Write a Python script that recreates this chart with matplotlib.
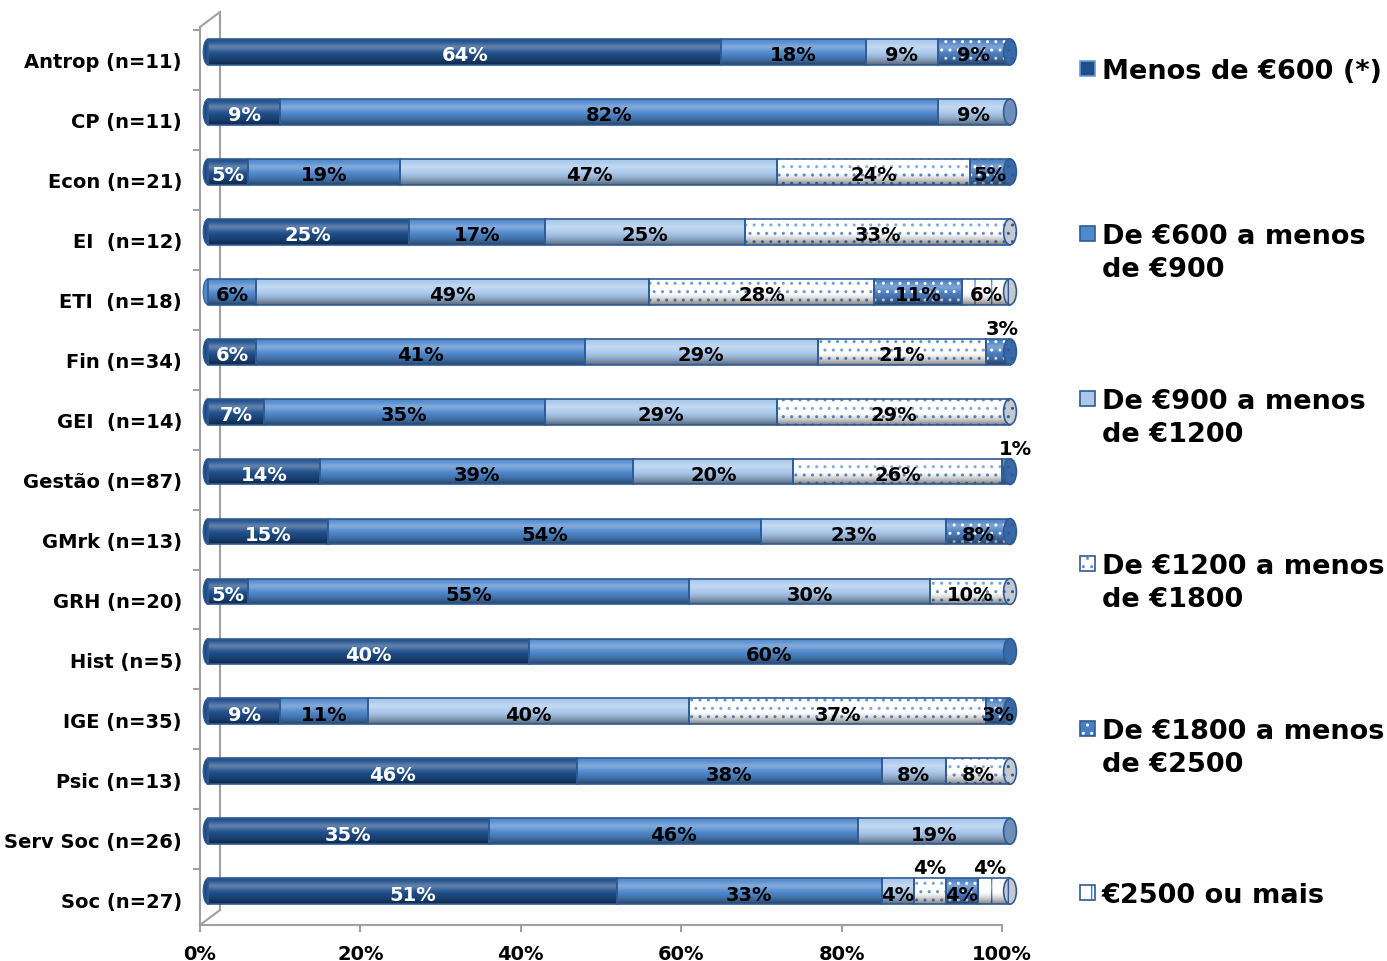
import numpy as np
import matplotlib
matplotlib.use("Agg")
import matplotlib.pyplot as plt
from matplotlib.transforms import ScaledTranslation
from matplotlib.patches import Rectangle, Ellipse

# Data (percent of graduates by net monthly income)
categories = ["Antrop (n=11)", "CP (n=11)", "Econ (n=21)", "EI  (n=12)", "ETI  (n=18)",
              "Fin (n=34)", "GEI  (n=14)", "Gestão (n=87)", "GMrk (n=13)", "GRH (n=20)",
              "Hist (n=5)", "IGE (n=35)", "Psic (n=13)", "Serv Soc (n=26)", "Soc (n=27)"]

menos_600    = [64, 9, 5, 25, 0, 6, 7, 14, 15, 5, 40, 9, 46, 35, 51]
de_600_900   = [18, 82, 19, 17, 6, 41, 35, 39, 54, 55, 60, 11, 38, 46, 33]
de_900_1200  = [9, 9, 47, 25, 49, 29, 29, 20, 23, 30, 0, 40, 8, 19, 4]
de_1200_1800 = [0, 0, 24, 33, 28, 21, 29, 26, 0, 10, 0, 37, 8, 0, 4]
de_1800_2500 = [9, 0, 5, 0, 11, 3, 0, 1, 8, 0, 0, 3, 0, 0, 4]
mais_2500    = [0, 0, 0, 0, 6, 0, 0, 0, 0, 0, 0, 0, 0, 0, 4]

series_names = ["Menos de €600 (*)", "De €600 a menos\nde €900", "De €900 a menos\nde €1200",
                "De €1200 a menos\nde €1800", "De €1800 a menos\nde €2500", "€2500 ou mais"]

# labels that Excel placed above the bar: (row, series) -> x shift in px
above_labels = {(5, 4): 4, (7, 4): 9, (14, 3): 0, (14, 5): -4}

series = [menos_600, de_600_900, de_900_1200, de_1200_1800, de_1800_2500, mais_2500]
face = ["#1F4E8A", "#4F88CC", "#A9C8EC", "white", "#4A7EC2", "white"]
hatch_col = ["#1F4E8A", "#4F88CC", "#A9C8EC", "#5B8ED0", "white", "#4A7EC2"]
hatches = [None, None, None, "..", "..", "|"]
cap_col = ["#173A68", "#3A6AA6", "#6F8FB8", "#C4C9D0", "#3A68A6", "#C4C9D0"]
outline = "#2F5B94"
grey = "#A0A0A0"

W, H = 1387, 962
fig = plt.figure(figsize=(W / 100, H / 100), dpi=100)
ax = fig.add_axes([200 / W, 1 - 926 / H, 802 / W, (926 - 28) / H])

bar_tr = ax.transData + ScaledTranslation(0.08, 0.08, fig.dpi_scale_trans)
lab_tr = ax.transData + ScaledTranslation(0.08, 0.05, fig.dpi_scale_trans)
bh = 0.43
y = np.arange(len(categories))

# cylinder shading
t = np.linspace(0, 1, 60)
hi = np.zeros((60, 1, 4))
hi[:, 0, :3] = 1.0
hi[:, 0, 3] = 0.28 * np.exp(-((t - 0.3) / 0.16) ** 2)
sh = np.zeros((60, 1, 4))
sh[:, 0, 3] = 0.5 * np.clip((t - 0.5) / 0.5, 0, 1) ** 1.6

left = np.zeros(len(categories))
first_col = [None] * len(categories)
last_col = [None] * len(categories)
for k, vals in enumerate(series):
    vals = np.array(vals, dtype=float)
    m = vals > 0
    ax.barh(y[m], vals[m], left=left[m], height=bh, color=face[k], edgecolor=hatch_col[k],
            hatch=hatches[k], linewidth=0, transform=bar_tr, zorder=2, clip_on=False)
    ax.barh(y[m], vals[m], left=left[m], height=bh, facecolor="none", edgecolor=outline,
            linewidth=1.2, transform=bar_tr, zorder=4, clip_on=False)
    for i in np.where(m)[0]:
        if first_col[i] is None:
            first_col[i] = k
        last_col[i] = k
        cx = left[i] + vals[i] / 2
        txt = f"{int(vals[i])}%"
        col = "white" if k == 0 else "black"
        if (i, k) in above_labels:
            tr = bar_tr + ScaledTranslation(above_labels[(i, k)] / 100, 0.01, fig.dpi_scale_trans)
            ax.text(cx, i - bh / 2, txt, ha="center", va="bottom", fontsize=14,
                    fontweight="bold", color="black", transform=tr, zorder=6, clip_on=False)
        else:
            ax.text(cx, i, txt, ha="center", va="center", fontsize=14, fontweight="bold",
                    color=col, transform=lab_tr, zorder=6, clip_on=False)
    left += vals

for i in y:
    ax.imshow(hi, extent=(0, 100, i + bh / 2, i - bh / 2), aspect="auto", transform=bar_tr,
              zorder=3, interpolation="bilinear", clip_on=False)
    ax.imshow(sh, extent=(0, 100, i + bh / 2, i - bh / 2), aspect="auto", transform=bar_tr,
              zorder=3, interpolation="bilinear", clip_on=False)
    # rounded ends
    k0 = first_col[i]
    ax.add_patch(Ellipse((0, i), 1.2, bh, facecolor=face[k0], edgecolor=outline, lw=0.8,
                         transform=bar_tr, zorder=1.5, clip_on=False))
    k1 = last_col[i]
    ax.add_patch(Ellipse((100, i), 1.6, bh, facecolor=cap_col[k1], edgecolor=outline, lw=1.2,
                         hatch=hatches[k1] if k1 >= 3 else None,
                         transform=bar_tr, zorder=5, clip_on=False))

ax.set_xlim(0, 100)
ax.set_ylim(14.43, -0.55)

# 3D wall frame
dx, dy = 20 / 802, 15 / 898
ax.plot([0, dx], [1, 1 + dy], color=grey, lw=1.5, transform=ax.transAxes, clip_on=False, zorder=0)
ax.plot([0, dx], [0, dy], color=grey, lw=1.5, transform=ax.transAxes, clip_on=False, zorder=0)
ax.plot([dx, dx], [dy, 1 + dy], color=grey, lw=1.5, transform=ax.transAxes, clip_on=False, zorder=0)

for s in ["top", "right"]:
    ax.spines[s].set_visible(False)
for s in ["left", "bottom"]:
    ax.spines[s].set_color(grey)
    ax.spines[s].set_linewidth(1.5)

ax.set_xticks([0, 20, 40, 60, 80, 100])
ax.set_xticklabels(["0%", "20%", "40%", "60%", "80%", "100%"], fontsize=14, fontweight="bold")
ax.tick_params(axis="x", length=5, width=1.5, color=grey, pad=9)
ax.set_yticks(y)
ax.set_yticklabels(categories, fontsize=14, fontweight="bold")
ax.set_yticks(np.arange(-0.5, 14, 1.0), minor=True)
ax.tick_params(axis="y", which="major", length=0, pad=13)
ax.tick_params(axis="y", which="minor", length=5, width=1.5, color=grey)

# legend drawn on the figure
leg_y = [69, 234, 399, 564, 729, 893]
for k, name in enumerate(series_names):
    yc = leg_y[k]
    fig.patches.append(Rectangle((1080 / W, 1 - (yc + 7.5) / H), 15 / W, 15 / H,
                                 facecolor=face[k], edgecolor=hatch_col[k] if k >= 3 else face[k],
                                 hatch=hatches[k], lw=0, transform=fig.transFigure))
    fig.patches.append(Rectangle((1080 / W, 1 - (yc + 7.5) / H), 15 / W, 15 / H,
                                 facecolor="none", edgecolor="#6A9AD6" if k == 0 else outline,
                                 lw=1.2, transform=fig.transFigure))
    for j, line in enumerate(name.split("\n")):
        fig.text(1102 / W, 1 - (yc + 10 + 33 * j) / H, line, fontsize=19.5, fontweight="bold",
                 ha="left", va="baseline")

fig.savefig("out.png", dpi=100)
